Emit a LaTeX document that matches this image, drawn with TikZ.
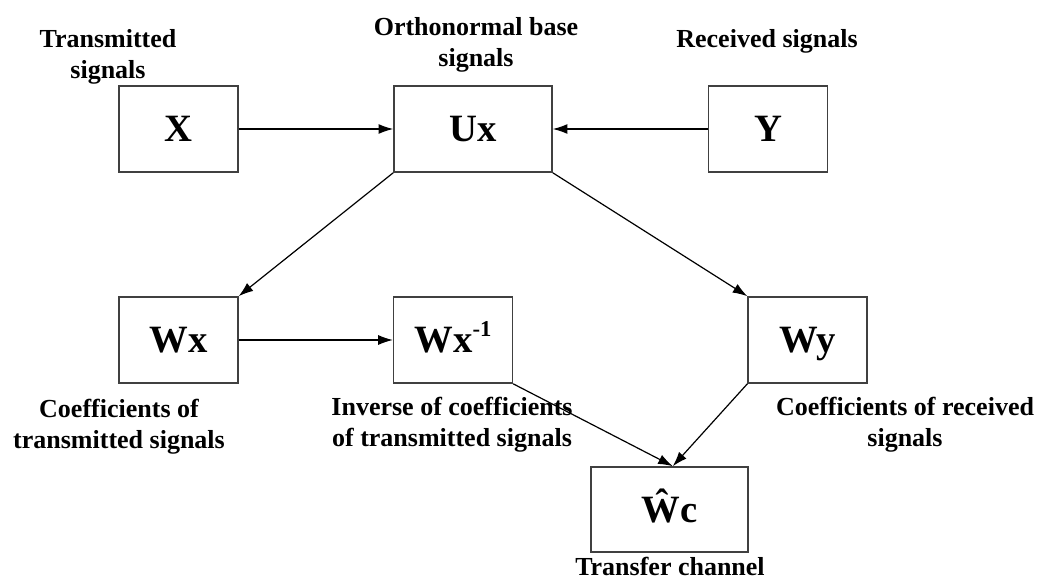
\documentclass[tikz,border=0pt]{standalone}
\usepackage{fontspec}
\setmainfont{Liberation Serif}
\usetikzlibrary{arrows.meta}
\begin{document}
\begin{tikzpicture}[x=0.75pt,y=-0.75pt,
  box/.style={draw=black!75, line width=1.2pt, inner sep=0pt,
    minimum width=89pt, minimum height=64.5pt,
    text height=19.2pt, text depth=0pt,
    font=\fontsize{29}{34}\selectfont\bfseries},
  lbl/.style={font=\fontsize{19.5}{23.25}\selectfont\bfseries, align=center,
    inner sep=0pt, anchor=north},
  conn/.style={-{Latex[length=11pt,width=7.5pt]}, line width=0.9pt, black}]
\useasboundingbox (0,0) rectangle (1043,585);

% boxes
\node[box] (X) at (178.5,129) {X};
\node[box, minimum width=118.5pt] (Ux) at (473,129) {Ux};
\node[box] (Y) at (768,129) {Y};
\node[box] (Wx) at (178.5,340) {Wx};
\node[box] (Wxi) at (453,340) {Wx\raisebox{12pt}[0pt][0pt]{\fontsize{17}{17}\selectfont -1}};
\node[box] (Wy) at (807.5,340) {Wy};
\node[box, minimum width=117.75pt, minimum height=63.75pt] (Wc) at (669.5,509.5) {Ŵc};

% labels
\node[lbl] (lX) at (108,29) {Transmitted\\signals};
\node[lbl] (lUx) at (476,17) {Orthonormal base\\signals};
\node[lbl] (lY) at (767,29) {Received signals};
\node[lbl] (lWx) at (119,399) {Coefficients of\\transmitted signals};
\node[lbl] (lWxi) at (452,397) {Inverse of coefficients\\of transmitted signals};
\node[lbl] (lWy) at (905,397) {Coefficients of received\\signals};
\node[lbl] (lWc) at (670,557) {Transfer channel};

% connectors
\coordinate (in) at ([xshift=2.5pt]Wc.north);
\draw[conn] (X.east) -- (Ux.west);
\draw[conn] (Y.west) -- (Ux.east);
\draw[conn] (Ux.south west) -- (Wx.north east);
\draw[conn] (Ux.south east) -- (Wy.north west);
\draw[conn] (Wx.east) -- (Wxi.west);
\draw[conn] (Wxi.south east) -- (in);
\draw[conn] (Wy.south west) -- (in);
\end{tikzpicture}
\end{document}
